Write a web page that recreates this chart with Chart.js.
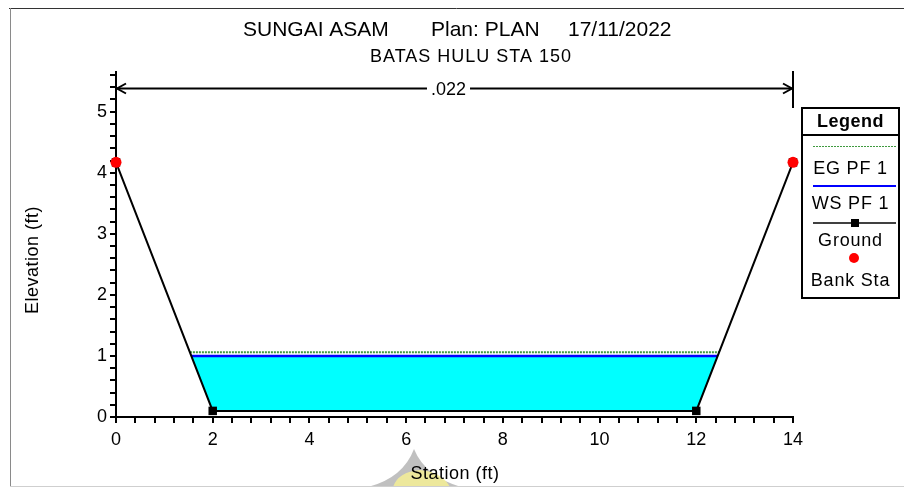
<!DOCTYPE html>
<html>
<head>
<meta charset="utf-8">
<script src="https://cdn.jsdelivr.net/npm/chart.js@4/dist/chart.umd.min.js"></script>
<style>
  html, body { margin: 0; padding: 0; background: #fff; }
  #wrap { width: 904px; height: 487px; position: relative; }
</style>
</head>
<body>
<div id="wrap"><canvas id="c" width="904" height="487"></canvas></div>
<script>
// Cross-section geometry (station ft, elevation ft)
const stations = [0, 2, 12, 14];
const groundElev = [4.17, 0.1, 0.1, 4.17];
const bankStations = [0, 14];
const bankElev = [4.17, 4.17];
// Profile PF 1 results
const wsElev = 1.0;
const egElev = 1.06;
// Manning's n span
const manningN = ['.022'];
const nStations = [0, 14];
const nElev = 5.38;
// Axis labels
const xTicks = [0, 2, 4, 6, 8, 10, 12, 14];
const yTicks = [0, 1, 2, 3, 4, 5];
const titleParts = ['SUNGAI ASAM', 'Plan: PLAN', '17/11/2022'];
const subTitle = 'BATAS HULU STA 150';
const seriesNames = ['EG PF 1', 'WS PF 1', 'Ground', 'Bank Sta'];

const FONT = '"Liberation Sans", Arial, Helvetica, sans-serif';

// Where a water level meets the ground line, left and right
function crossings(elev) {
  const xs = [];
  for (let i = 0; i < stations.length - 1; i++) {
    const z0 = groundElev[i], z1 = groundElev[i + 1];
    if ((z0 - elev) * (z1 - elev) < 0) {
      const t = (elev - z0) / (z1 - z0);
      xs.push(stations[i] + t * (stations[i + 1] - stations[i]));
    }
  }
  return [xs[0], xs[xs.length - 1]];
}
const wsEdge = crossings(wsElev);
const egEdge = crossings(egElev);

const COLORS = { eg: '#3f9a3f', ws: '#0000ff', water: '#00ffff', ground: '#000000', bank: '#ff0000' };

function minorTicks(min, max, step) {
  const out = [];
  const n = Math.round((max - min) / step);
  for (let i = 0; i <= n; i++) out.push({ value: Math.round((min + i * step) * 1000) / 1000 });
  return out;
}

// Titles, n-value span, legend box and frame
const decorations = {
  id: 'decorations',
  beforeDraw(chart) {
    const ctx = chart.ctx;
    ctx.save();
    // logo mark behind the x axis title
    ctx.fillStyle = 'rgba(150,150,150,0.6)';
    ctx.beginPath();
    ctx.moveTo(368, 487);
    ctx.quadraticCurveTo(403, 478, 414, 449);
    ctx.quadraticCurveTo(425, 476, 461, 487);
    ctx.closePath();
    ctx.fill();
    ctx.fillStyle = 'rgba(246,240,150,0.85)';
    ctx.beginPath();
    ctx.moveTo(393, 487);
    ctx.quadraticCurveTo(398, 472, 420, 470);
    ctx.quadraticCurveTo(442, 472, 450, 487);
    ctx.closePath();
    ctx.fill();
    ctx.restore();
  },
  afterDraw(chart) {
    const ctx = chart.ctx;
    const xs = chart.scales.x, ys = chart.scales.y;
    ctx.save();

    // frame
    ctx.lineWidth = 1;
    ctx.strokeStyle = '#333';
    ctx.beginPath(); ctx.moveTo(9, 8.5); ctx.lineTo(904, 8.5); ctx.stroke();
    ctx.strokeStyle = '#8a8a8a';
    ctx.beginPath(); ctx.moveTo(10.5, 8); ctx.lineTo(10.5, 487); ctx.stroke();
    ctx.strokeStyle = '#cfcfcf';
    ctx.beginPath(); ctx.moveTo(10, 486.5); ctx.lineTo(904, 486.5); ctx.stroke();

    // titles
    ctx.fillStyle = '#000';
    ctx.textBaseline = 'middle';
    ctx.textAlign = 'left';
    ctx.font = '21px ' + FONT;
    const tx = [243, 431, 568];
    titleParts.forEach((t, i) => ctx.fillText(t, tx[i], 30));
    ctx.font = '18px ' + FONT;
    ctx.letterSpacing = '1px';
    ctx.textAlign = 'center';
    ctx.fillText(subTitle, 471, 57);

    // axis titles
    ctx.font = '18px ' + FONT;
    ctx.letterSpacing = '0.5px';
    ctx.fillText('Station (ft)', 455, 474);
    ctx.save();
    ctx.translate(33, 260);
    ctx.rotate(-Math.PI / 2);
    ctx.fillText('Elevation (ft)', 0, 0);
    ctx.restore();
    ctx.letterSpacing = '0px';

    // Manning's n span
    const x0 = xs.getPixelForValue(nStations[0]);
    const x1 = xs.getPixelForValue(nStations[1]);
    const yA = Math.round(ys.getPixelForValue(nElev)) + 0.5;
    ctx.strokeStyle = '#000';
    ctx.lineWidth = 2;
    ctx.beginPath(); ctx.moveTo(x1, chart.chartArea.top - 1); ctx.lineTo(x1, 108); ctx.stroke();
    ctx.beginPath(); ctx.moveTo(x0 + 1, yA); ctx.lineTo(x1 - 1, yA); ctx.stroke();
    ctx.beginPath();
    ctx.moveTo(x0 + 10, yA - 5); ctx.lineTo(x0 + 1, yA); ctx.lineTo(x0 + 10, yA + 5);
    ctx.moveTo(x1 - 10, yA - 5); ctx.lineTo(x1 - 1, yA); ctx.lineTo(x1 - 10, yA + 5);
    ctx.stroke();
    ctx.font = '18px ' + FONT;
    const nx = (x0 + x1) / 2 - 6;
    const w = ctx.measureText(manningN[0]).width;
    ctx.fillStyle = '#fff';
    ctx.fillRect(nx - w / 2 - 4, yA - 9, w + 8, 18);
    ctx.fillStyle = '#000';
    ctx.fillText(manningN[0], nx, yA + 2);

    // legend box
    const L = 802, R = 899, T = 108, B = 298, cx = (L + R) / 2;
    ctx.fillStyle = '#fff';
    ctx.fillRect(L, T, R - L, B - T);
    ctx.lineWidth = 2;
    ctx.strokeStyle = '#000';
    ctx.strokeRect(L, T, R - L, B - T);
    ctx.beginPath(); ctx.moveTo(L, 135); ctx.lineTo(R, 135); ctx.stroke();
    ctx.fillStyle = '#000';
    ctx.font = 'bold 18px ' + FONT;
    ctx.letterSpacing = '0.5px';
    ctx.fillText('Legend', cx, 122);
    ctx.font = '18px ' + FONT;
    ctx.letterSpacing = '0.8px';
    const ds = chart.data.datasets;
    // EG
    ctx.strokeStyle = COLORS.eg; ctx.lineWidth = 1; ctx.setLineDash([2, 1]);
    ctx.beginPath(); ctx.moveTo(813, 146.5); ctx.lineTo(896, 146.5); ctx.stroke();
    ctx.setLineDash([]);
    ctx.fillText(ds[0].label, cx, 169);
    // WS
    ctx.strokeStyle = COLORS.ws; ctx.lineWidth = 2;
    ctx.beginPath(); ctx.moveTo(813, 186); ctx.lineTo(896, 186); ctx.stroke();
    ctx.fillText(ds[1].label, cx, 204);
    // Ground
    ctx.strokeStyle = COLORS.ground; ctx.lineWidth = 1.5;
    ctx.beginPath(); ctx.moveTo(813, 223); ctx.lineTo(896, 223); ctx.stroke();
    ctx.fillStyle = COLORS.ground;
    ctx.fillRect(851, 219, 8, 8);
    ctx.fillText(ds[2].label, cx, 241);
    // Bank Sta
    ctx.fillStyle = COLORS.bank;
    ctx.beginPath(); ctx.arc(854, 258, 5, 0, Math.PI * 2); ctx.fill();
    ctx.fillStyle = '#000';
    ctx.fillText(ds[3].label, cx, 281);
    ctx.restore();
  }
};

const groundPts = stations.map((s, i) => ({ x: s, y: groundElev[i] }));
const bankPts = bankStations.map((s, i) => ({ x: s, y: bankElev[i] }));

new Chart(document.getElementById('c'), {
  type: 'line',
  data: {
    datasets: [
      {
        label: seriesNames[0],
        data: [{ x: egEdge[0], y: egElev }, { x: egEdge[1], y: egElev }],
        borderColor: COLORS.eg, borderWidth: 2, borderDash: [2, 1],
        pointRadius: 0, fill: false, order: 3
      },
      {
        label: seriesNames[1],
        data: [{ x: wsEdge[0], y: wsElev }, { x: wsEdge[1], y: wsElev }],
        borderColor: COLORS.ws, borderWidth: 2.5,
        backgroundColor: COLORS.water,
        pointRadius: 0, fill: 2, order: 2
      },
      {
        label: seriesNames[2],
        data: groundPts,
        borderColor: COLORS.ground, borderWidth: 2,
        pointStyle: 'rect', pointRadius: 6, pointBackgroundColor: COLORS.ground,
        pointBorderColor: COLORS.ground, pointBorderWidth: 0,
        fill: false, clip: false, order: 1
      },
      {
        label: seriesNames[3],
        data: bankPts,
        showLine: false,
        pointStyle: 'circle', pointRadius: 5.5, pointBackgroundColor: COLORS.bank,
        pointBorderColor: COLORS.bank, pointBorderWidth: 0,
        clip: false, order: 0
      }
    ]
  },
  options: {
    responsive: false,
    animation: false,
    devicePixelRatio: 1,
    layout: { padding: { left: 0, top: 72, right: 111, bottom: 0 } },
    plugins: { legend: { display: false }, title: { display: false }, tooltip: { enabled: false } },
    events: [],
    scales: {
      x: {
        type: 'linear', min: 0, max: 14,
        afterBuildTicks(scale) { scale.ticks = minorTicks(0, 14, 0.4); },
        afterFit(scale) { scale.height = 70; },
        border: { display: true, color: '#000', width: 2 },
        grid: { display: true, drawOnChartArea: false, drawTicks: true, tickLength: 6, color: '#000', lineWidth: 2 },
        ticks: {
          autoSkip: false, maxRotation: 0, padding: 6, color: '#000',
          font: { family: FONT, size: 18 },
          callback(v) { const r = Math.round(v * 100) / 100; return xTicks.includes(r) ? String(r) : ''; }
        }
      },
      y: {
        type: 'linear', min: 0, max: 5.65,
        afterBuildTicks(scale) { scale.ticks = minorTicks(0, 5.6, 0.2); },
        afterFit(scale) { scale.width = 116; },
        border: { display: true, color: '#000', width: 2 },
        grid: { display: true, drawOnChartArea: false, drawTicks: true, tickLength: 6, color: '#000', lineWidth: 2 },
        ticks: {
          autoSkip: false, padding: 3, color: '#000',
          font: { family: FONT, size: 18 },
          callback(v) { const r = Math.round(v * 100) / 100; return yTicks.includes(r) ? String(r) : ''; }
        }
      }
    }
  },
  plugins: [decorations]
});
</script>
</body>
</html>
